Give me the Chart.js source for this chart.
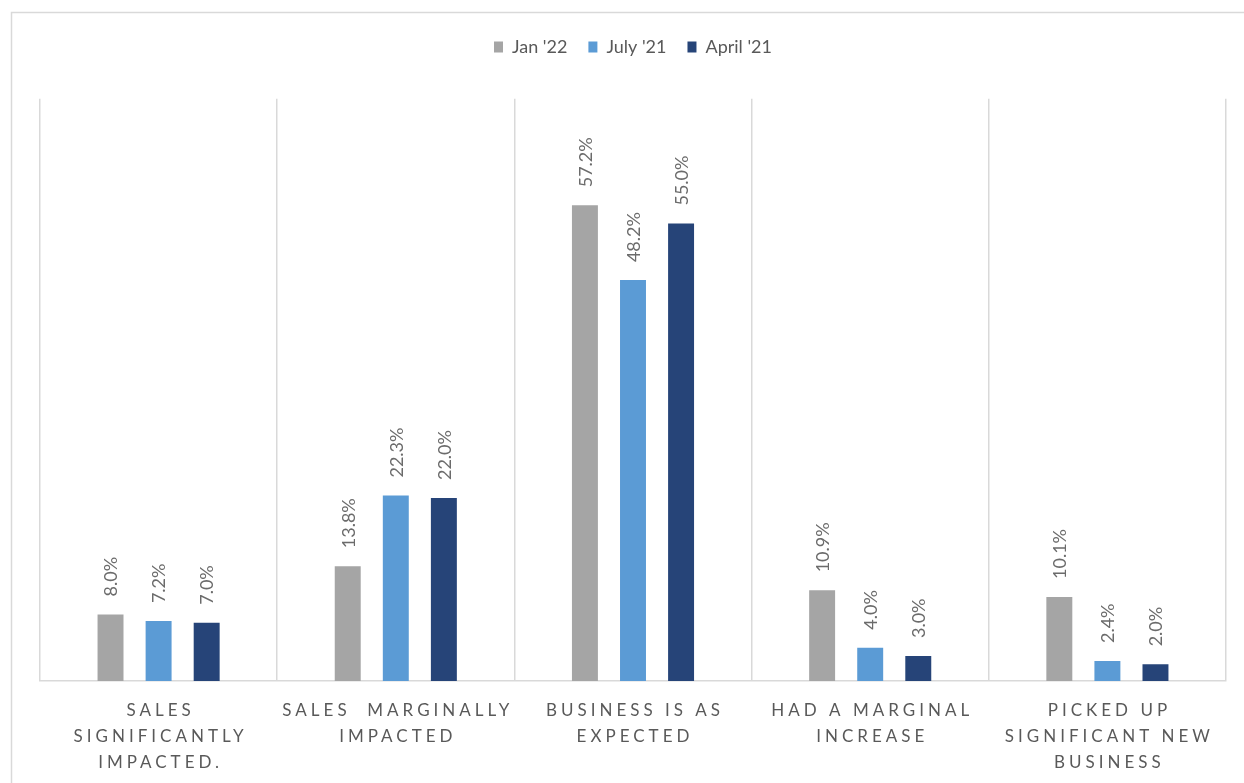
<!DOCTYPE html>
<html>
<head>
<meta charset="utf-8">
<script src="https://cdn.jsdelivr.net/npm/chart.js@4.4.1/dist/chart.umd.min.js"></script>
<style>
  html, body { margin: 0; padding: 0; background: #fff; }
  #wrap { position: relative; width: 1244px; height: 783px; }
</style>
</head>
<body>
<div id="wrap"><canvas id="chart" width="1244" height="783"></canvas></div>
<script>
// --- CHART DATA ---
const categories = [
  ['SALES', 'SIGNIFICANTLY', 'IMPACTED.'],
  ['SALES  MARGINALLY', 'IMPACTED'],
  ['BUSINESS IS AS', 'EXPECTED'],
  ['HAD A MARGINAL', 'INCREASE'],
  ['PICKED UP', 'SIGNIFICANT NEW', 'BUSINESS']
];
const seriesNames = ["Jan '22", "July '21", "April '21"];
const jan22 = [8.0, 13.8, 57.2, 10.9, 10.1];
const july21 = [7.2, 22.3, 48.2, 4.0, 2.4];
const april21 = [7.0, 22.0, 55.0, 3.0, 2.0];
const colors = ['#A5A5A5', '#5B9BD5', '#264478'];

const FONT = 'Lato, "Open Sans", sans-serif';
const GRID = '#d9d9d9';

// outer frame of the chart box
const framePlugin = {
  id: 'frame',
  beforeDraw(chart) {
    const ctx = chart.ctx;
    ctx.save();
    ctx.strokeStyle = GRID;
    ctx.lineWidth = 1.5;
    ctx.beginPath();
    ctx.moveTo(11.5, 783);
    ctx.lineTo(11.5, 12.5);
    ctx.lineTo(1244, 12.5);
    ctx.stroke();
    ctx.restore();
  }
};

// rotated value labels above each bar
const valueLabels = {
  id: 'valueLabels',
  afterDatasetsDraw(chart) {
    const ctx = chart.ctx;
    ctx.save();
    ctx.fillStyle = '#6b6b6b';
    ctx.font = '18px ' + FONT;
    ctx.textAlign = 'left';
    ctx.textBaseline = 'middle';
    chart.data.datasets.forEach((ds, i) => {
      chart.getDatasetMeta(i).data.forEach((bar, j) => {
        ctx.save();
        ctx.translate(bar.x, bar.y - 18);
        ctx.rotate(-Math.PI / 2);
        ctx.fillText(ds.data[j].toFixed(1) + '%', 0, 1);
        ctx.restore();
      });
    });
    ctx.restore();
  }
};

// spaced-out category labels under the axis
const categoryLabels = {
  id: 'categoryLabels',
  afterDraw(chart) {
    const ctx = chart.ctx;
    const x = chart.scales.x;
    const spacing = 4;
    ctx.save();
    ctx.fillStyle = '#595959';
    ctx.font = '17px ' + FONT;
    ctx.letterSpacing = spacing + 'px';
    ctx.textAlign = 'center';
    ctx.textBaseline = 'alphabetic';
    categories.forEach((lines, i) => {
      const cx = x.getPixelForValue(i) + spacing / 2;
      lines.forEach((line, k) => {
        ctx.fillText(line, cx, chart.chartArea.bottom + 35 + k * 26);
      });
    });
    ctx.restore();
  }
};

new Chart(document.getElementById('chart'), {
  type: 'bar',
  data: {
    labels: categories.map(c => c.join(' ')),
    datasets: [
      { label: seriesNames[0], data: jan22, backgroundColor: colors[0] },
      { label: seriesNames[1], data: july21, backgroundColor: colors[1] },
      { label: seriesNames[2], data: april21, backgroundColor: colors[2] }
    ]
  },
  options: {
    responsive: false,
    animation: false,
    devicePixelRatio: 1,
    categoryPercentage: 0.608,
    barPercentage: 0.54,
    layout: { padding: { left: 40, right: 18, top: 17, bottom: 102 } },
    scales: {
      x: {
        grid: { offset: true, color: GRID, lineWidth: 1.5, drawTicks: false },
        border: { color: GRID, width: 1.5 },
        ticks: { display: false }
      },
      y: {
        display: false,
        min: 0,
        max: 70
      }
    },
    plugins: {
      legend: {
        position: 'top',
        labels: {
          boxWidth: 9,
          boxHeight: 11,
          padding: 21,
          color: '#595959',
          font: { family: FONT, size: 18 }
        }
      },
      // empty spacer between legend and plot area
      title: {
        display: true,
        text: ' ',
        weight: 500,
        padding: 11,
        font: { size: 9 }
      },
      tooltip: { enabled: false }
    }
  },
  plugins: [framePlugin, valueLabels, categoryLabels]
});
</script>
</body>
</html>
